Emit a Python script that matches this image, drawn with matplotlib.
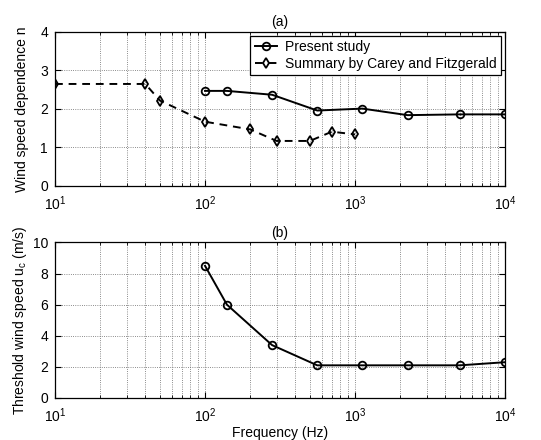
import matplotlib
matplotlib.use('Agg')
import matplotlib.pyplot as plt
from matplotlib.ticker import LogLocator, NullFormatter

# --- data ---
freq_present = [100, 140, 280, 560, 1120, 2240, 5000, 10000]
n_present = [2.47, 2.47, 2.37, 1.96, 2.01, 1.84, 1.86, 1.86]

freq_carey = [10, 40, 50, 100, 200, 300, 500, 700, 1000]
n_carey = [2.65, 2.65, 2.22, 1.67, 1.47, 1.17, 1.17, 1.41, 1.34]

u_threshold = [8.5, 6.0, 3.4, 2.1, 2.1, 2.1, 2.1, 2.3]

plt.rcParams['font.family'] = ['Liberation Sans', 'DejaVu Sans']
plt.rcParams['mathtext.fontset'] = 'custom'
plt.rcParams['mathtext.rm'] = 'Liberation Sans'
plt.rcParams['mathtext.it'] = 'Liberation Sans:italic'
plt.rcParams['font.size'] = 10

fig = plt.figure(figsize=(5.41, 4.4), dpi=100)
ax1 = fig.add_axes([0.1017, 0.5773, 0.8318, 0.35])
ax2 = fig.add_axes([0.1017, 0.0955, 0.8318, 0.3534])


def style_axes(ax, ymax, ystep):
    ax.set_xscale('log')
    ax.set_xlim(10, 1e4)
    ax.set_ylim(0, ymax)
    ax.set_yticks(range(0, ymax + 1, ystep))
    ax.xaxis.set_minor_locator(LogLocator(base=10, subs=range(2, 10)))
    ax.xaxis.set_minor_formatter(NullFormatter())
    ax.tick_params(which='both', direction='in', top=True, right=True, labelsize=10)
    ax.tick_params(which='major', length=4)
    ax.tick_params(which='minor', length=2)
    ax.tick_params(axis='x', which='major', pad=6)
    ax.tick_params(axis='y', which='major', pad=5)
    ax.grid(True, which='major', linestyle=':', color='0.4', linewidth=0.6)
    ax.grid(True, which='minor', axis='x', linestyle=':', color='0.4', linewidth=0.6)
    for s in ax.spines.values():
        s.set_linewidth(0.9)


# (a) wind speed dependence
ax1.plot(freq_present, n_present, '-o', color='k', lw=1.4, ms=5.5,
         mfc='none', mew=1.3, label='Present study')
ax1.plot(freq_carey, n_carey, '--d', color='k', lw=1.4, ms=5.5,
         mfc='none', mew=1.3, dashes=(4, 3), label='Summary by Carey and Fitzgerald')
style_axes(ax1, 4, 1)
ax1.set_ylabel('Wind speed dependence n', labelpad=8)
ax1.set_title('(a)', fontsize=10, pad=4)
leg = ax1.legend(loc='upper right', fontsize=10, handlelength=1.6, handletextpad=0.6,
                 borderaxespad=0.3, borderpad=0.3, labelspacing=0.2,
                 fancybox=False, framealpha=1, edgecolor='k')
leg.get_frame().set_linewidth(0.9)

# (b) threshold wind speed
ax2.plot(freq_present, u_threshold, '-o', color='k', lw=1.4, ms=5.5,
         mfc='none', mew=1.3)
style_axes(ax2, 10, 2)
ax2.set_ylabel(r'Threshold wind speed u$_\mathrm{c}$ (m/s)', labelpad=3)
ax2.set_xlabel('Frequency (Hz)', labelpad=1)
ax2.set_title('(b)', fontsize=10, pad=4)

fig.savefig('out.png', dpi=100)
